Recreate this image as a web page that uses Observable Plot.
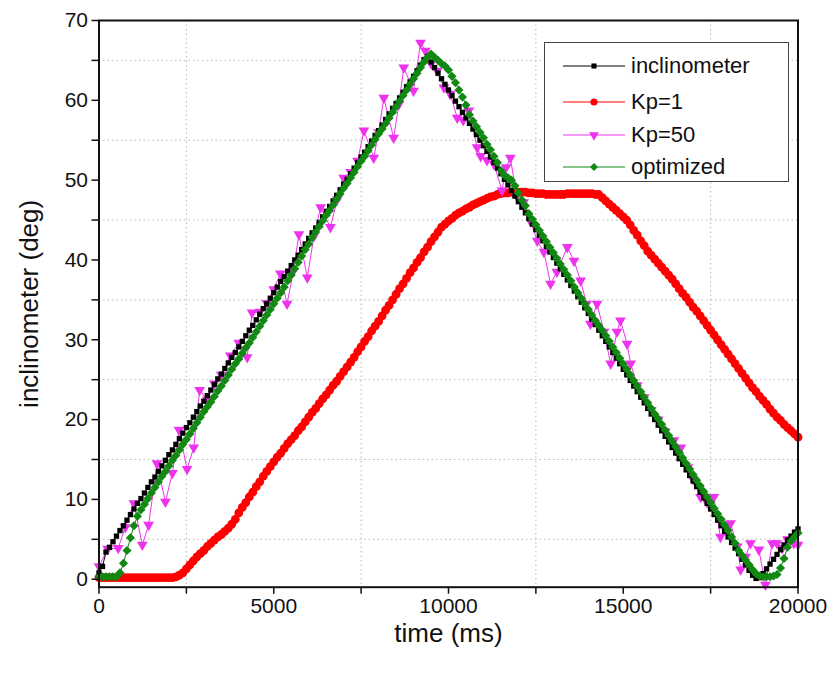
<!DOCTYPE html>
<html><head><meta charset="utf-8">
<script src="https://cdn.jsdelivr.net/npm/d3@7"></script>
<script src="https://cdn.jsdelivr.net/npm/@observablehq/plot@0.6"></script>
<style>
body{margin:0;background:#fff;}
#wrap{position:relative;width:832px;height:677px;font-family:"Liberation Sans",Arial,sans-serif;}
#legend{position:absolute;left:544px;top:42px;width:245px;height:140px;border:1.2px solid #444;background:#fff;box-sizing:border-box;}
.row{position:absolute;left:0;height:32px;display:flex;align-items:center;font-size:22px;color:#111;white-space:nowrap;}
.row svg{display:block;margin-left:17px;margin-right:5px;}
</style></head><body><div id="wrap"></div>
<script>
// sample times (ms) for inclinometer, Kp=1 and optimized
const time = [0,100,200,300,400,500,600,700,800,900,1000,1100,1200,1300,1400,1500,1600,1700,1800,1900,
2000,2100,2200,2300,2400,2500,2600,2700,2800,2900,3000,3100,3200,3300,3400,3500,3600,3700,3800,3900,
4000,4100,4200,4300,4400,4500,4600,4700,4800,4900,5000,5100,5200,5300,5400,5500,5600,5700,5800,5900,
6000,6100,6200,6300,6400,6500,6600,6700,6800,6900,7000,7100,7200,7300,7400,7500,7600,7700,7800,7900,
8000,8100,8200,8300,8400,8500,8600,8700,8800,8900,9000,9100,9200,9300,9400,9500,9600,9700,9800,9900,
10000,10100,10200,10300,10400,10500,10600,10700,10800,10900,11000,11100,11200,11300,11400,11500,11600,11700,11800,11900,
12000,12100,12200,12300,12400,12500,12600,12700,12800,12900,13000,13100,13200,13300,13400,13500,13600,13700,13800,13900,
14000,14100,14200,14300,14400,14500,14600,14700,14800,14900,15000,15100,15200,15300,15400,15500,15600,15700,15800,15900,
16000,16100,16200,16300,16400,16500,16600,16700,16800,16900,17000,17100,17200,17300,17400,17500,17600,17700,17800,17900,
18000,18100,18200,18300,18400,18500,18600,18700,18800,18900,19000,19100,19200,19300,19400,19500,19600,19700,19800,19900,20000];

const inclinometer = [0.8,1.6,3.4,4.0,4.7,5.4,6.1,6.7,7.4,8.1,
8.8,9.5,10.1,10.8,11.5,12.2,12.8,13.5,14.2,14.9,
15.6,16.2,16.9,17.6,18.3,19.0,19.6,20.3,21.0,21.7,
22.3,23.0,23.7,24.4,25.1,25.7,26.4,27.1,27.8,28.4,
29.1,29.8,30.5,31.2,31.8,32.5,33.2,33.9,34.5,35.2,
35.9,36.6,37.3,37.9,38.6,39.3,40.0,40.6,41.3,42.0,
42.7,43.4,44.0,44.7,45.4,46.1,46.7,47.4,48.1,48.8,
49.5,50.1,50.8,51.5,52.2,52.9,53.5,54.2,54.9,55.6,
56.2,56.9,57.6,58.3,59.0,59.6,60.3,61.0,61.7,62.3,
63.0,63.7,64.4,65.1,65.5,64.8,64.1,63.4,62.7,62.0,
61.3,60.6,59.9,59.2,58.5,57.8,57.1,56.4,55.7,55.0,
54.3,53.6,52.9,52.2,51.5,50.8,50.1,49.4,48.7,48.0,
47.3,46.6,45.9,45.2,44.5,43.8,43.1,42.4,41.7,41.0,
40.3,39.6,38.9,38.2,37.5,36.8,36.1,35.4,34.7,34.0,
33.3,32.6,31.9,31.2,30.5,29.8,29.1,28.4,27.7,27.0,
26.3,25.6,24.9,24.2,23.5,22.8,22.1,21.4,20.7,20.0,
19.3,18.6,17.9,17.2,16.5,15.8,15.1,14.4,13.7,13.0,
12.3,11.6,10.9,10.2,9.5,8.8,8.1,7.4,6.7,6.0,
5.3,4.6,3.9,3.2,2.5,1.8,1.1,0.5,0.1,0.2,
0.7,1.3,1.9,2.5,3.1,3.7,4.3,4.9,5.4,5.9,6.3];

const kp1 = [0.2,0.2,0.2,0.2,0.2,0.2,0.2,0.2,0.2,0.2,
0.2,0.2,0.2,0.2,0.2,0.2,0.2,0.2,0.2,0.2,
0.2,0.2,0.3,0.5,0.8,1.3,1.8,2.3,2.8,3.2,
3.6,4.1,4.5,4.9,5.3,5.6,6.0,6.4,6.9,7.5,
8.3,9.0,9.6,10.3,10.9,11.6,12.2,12.9,13.5,14.1,
14.7,15.3,15.8,16.4,17.0,17.5,18.0,18.6,19.1,19.7,
20.3,20.9,21.4,22.0,22.6,23.1,23.7,24.3,24.8,25.4,
26.0,26.6,27.2,27.8,28.5,29.1,29.8,30.4,31.1,31.7,
32.3,33.0,33.7,34.3,35.0,35.7,36.4,37.0,37.7,38.4,
39.0,39.7,40.3,41.0,41.6,42.3,42.9,43.5,44.1,44.5,
44.9,45.2,45.6,45.9,46.1,46.4,46.6,46.9,47.1,47.3,
47.5,47.7,47.9,48.0,48.2,48.3,48.4,48.4,48.5,48.5,
48.5,48.5,48.5,48.4,48.4,48.3,48.3,48.3,48.2,48.2,
48.2,48.2,48.2,48.2,48.3,48.3,48.3,48.3,48.3,48.3,
48.3,48.3,48.2,48.2,47.8,47.4,47.0,46.6,46.2,45.8,
45.4,45.0,44.4,43.7,43.1,42.4,41.8,41.1,40.6,40.1,
39.6,39.1,38.6,38.1,37.6,37.0,36.4,35.8,35.3,34.7,
34.1,33.6,33.0,32.4,31.8,31.2,30.6,30.0,29.4,28.8,
28.2,27.6,27.0,26.4,25.8,25.2,24.6,24.0,23.5,22.9,
22.4,21.9,21.3,20.8,20.3,19.9,19.4,19.0,18.6,18.2,17.8];

const optimized = [0.3,0.3,0.3,0.3,0.3,0.3,0.8,2.0,3.6,5.2,
6.7,7.9,8.7,9.4,10.1,10.8,11.5,12.2,12.9,13.5,
14.2,14.9,15.5,16.2,16.9,17.5,18.2,18.9,19.6,20.3,
21.0,21.6,22.2,22.9,23.6,24.2,24.9,25.6,26.3,27.0,
27.6,28.3,29.0,29.6,30.3,31.0,31.7,32.4,33.1,33.8,
34.5,35.2,35.9,36.6,37.4,38.1,38.9,39.7,40.5,41.3,
42.0,42.8,43.5,44.2,44.9,45.6,46.2,46.9,47.6,48.3,
49.0,49.6,50.3,51.0,51.7,52.4,53.0,53.7,54.4,55.1,
55.8,56.4,57.1,57.8,58.5,59.2,59.9,60.6,61.3,62.0,
62.7,63.4,64.1,64.8,65.4,65.8,65.4,65.0,64.6,64.3,
63.8,63.0,62.2,61.3,60.4,59.4,58.2,57.4,56.7,56.0,
55.3,54.5,53.8,53.0,52.2,51.2,50.6,50.3,50.0,49.3,
48.4,47.5,46.8,45.8,45.1,44.4,43.7,43.0,42.3,41.6,
40.9,40.2,39.5,38.8,38.1,37.4,36.6,35.9,35.2,34.5,
33.8,33.1,32.4,31.8,31.2,30.5,29.8,29.1,28.4,27.7,
27.0,26.3,25.6,24.9,24.2,23.5,22.8,22.1,21.4,20.7,
20.1,19.4,18.7,18.0,17.3,16.6,15.9,15.2,14.5,13.8,
13.1,12.4,11.7,11.0,10.3,9.6,8.9,8.2,7.5,6.8,
6.1,5.3,4.5,3.6,3.0,2.4,1.8,1.2,0.7,0.4,
0.3,0.3,0.3,0.4,0.6,1.4,2.6,4.0,4.8,5.3,5.8];

// Kp=50 series has its own sample times
const kp50Time = [0,250,550,750,1000,1240,1420,1660,1900,2100,2290,2520,2710,2880,3100,3300,3500,3760,4000,4240,
4380,4600,4800,5000,5190,5380,5560,5720,5960,6150,6340,6620,6820,7000,7200,7400,7580,7860,8000,8150,
8430,8580,8720,9000,9200,9340,9500,9680,9870,10050,10250,10420,10580,10820,10920,11100,11300,11530,11650,11770,
11950,12150,12350,12540,12730,12920,13100,13400,13590,13780,13950,14060,14250,14450,14640,14820,14920,15110,15210,15400,
15600,15800,16000,16200,16450,16650,16850,17000,17210,17400,17590,17780,17950,18070,18260,18360,18500,18640,18880,19070,
19260,19400,19550,19700,19880,20000];
const kp50 = [1.6,3.8,3.9,6.5,9.5,4.3,6.8,14.5,9.7,13.3,18.7,13.8,16.5,23.7,22.5,24.5,25.6,28.0,29.6,27.8,
33.4,33.5,34.6,36.3,38.3,34.5,38.6,43.2,37.8,43.0,46.6,44.1,47.6,50.3,51.0,52.4,56.2,52.8,56.0,60.3,
55.3,59.5,64.1,61.2,67.2,66.2,64.6,63.7,61.6,60.8,57.8,57.5,58.7,54.1,53.0,52.5,52.0,48.7,51.6,52.8,
48.0,47.2,44.8,42.4,41.0,37.0,38.5,41.6,39.9,37.4,34.5,32.0,34.5,31.0,27.0,31.0,32.4,29.5,27.0,24.3,
22.8,21.2,20.0,18.5,17.4,16.5,14.0,12.5,10.3,9.6,10.3,5.3,6.2,7.0,4.1,1.2,2.8,4.5,3.7,-0.7,
4.5,4.5,3.9,5.0,4.5,4.3];

const xMajor = [0,5000,10000,15000,20000];
const xMinor = [2500,7500,12500,17500];
const yMajor = [0,10,20,30,40,50,60,70];
const yMinor = [5,15,25,35,45,55,65];
const seriesNames = ["inclinometer","Kp=1","Kp=50","optimized"];
const seriesColors = ["#000000","#ff0000","#ee33ee","#118811"];

const rows = (vals, ts) => ts.map((t,i) => ({t, v: vals[i]}));
const dInc = rows(inclinometer, time);
const dKp1 = rows(kp1, time);
const dOpt = rows(optimized, time);
const dKp50 = rows(kp50, kp50Time);

const FONT = '"Liberation Sans", Arial, sans-serif';

const chart = Plot.plot({
  width: 832, height: 677,
  marginLeft: 98.5, marginRight: 34.5, marginTop: 20, marginBottom: 90.3,
  style: {fontFamily: FONT, background: "white", color: "#111", overflow: "visible"},
  x: {domain: [0, 20000], axis: null},
  y: {domain: [-1, 70], axis: null},
  marks: [
    Plot.gridX(xMinor, {stroke: "#b8b8b8", strokeOpacity: 1, strokeDasharray: "1.5,3"}),
    Plot.gridY(yMinor, {stroke: "#b8b8b8", strokeOpacity: 1, strokeDasharray: "1.5,3"}),
    Plot.line(dKp1, {x: "t", y: "v", stroke: seriesColors[1], strokeWidth: 1}),
    Plot.dot(dKp1, {x: "t", y: "v", r: 4.4, fill: seriesColors[1], symbol: "circle"}),
    Plot.line(dKp50, {x: "t", y: "v", stroke: seriesColors[2], strokeWidth: 1}),
    Plot.dot(dKp50, {x: "t", y: "v", r: 4.0, fill: seriesColors[2], symbol: "triangle", rotate: 180}),
    Plot.line(dInc, {x: "t", y: "v", stroke: seriesColors[0], strokeWidth: 1}),
    Plot.dot(dInc, {x: "t", y: "v", r: 3.0, fill: seriesColors[0], symbol: "square"}),
    Plot.line(dOpt, {x: "t", y: "v", stroke: seriesColors[3], strokeWidth: 1}),
    Plot.dot(dOpt, {x: "t", y: "v", r: 4.1, fill: seriesColors[3], stroke: "none", symbol: "diamond2"}),
    Plot.axisX(xMajor, {tickSize: 7, tickPadding: 4, fontSize: 21, strokeWidth: 1.5, tickFormat: d => String(d), label: null}),
    Plot.axisX(xMinor, {tickSize: 7, strokeWidth: 1.5, tickFormat: () => "", label: null}),
    Plot.axisY(yMajor, {tickSize: 7, tickPadding: 4, fontSize: 21, strokeWidth: 1.5, tickFormat: d => String(d), label: null}),
    Plot.axisY(yMinor, {tickSize: 7, strokeWidth: 1.5, tickFormat: () => "", label: null}),
    Plot.frame({stroke: "#111", strokeWidth: 2}),
    Plot.text(["time (ms)"], {frameAnchor: "bottom", lineAnchor: "middle", dy: 46, text: d => d, fontSize: 26, fill: "#111"}),
    Plot.text(["inclinometer (deg)"], {frameAnchor: "left", textAnchor: "middle", lineAnchor: "middle", dx: -69, rotate: -90, text: d => d, fontSize: 26, fill: "#111"})
  ]
});

const wrap = document.getElementById("wrap");
wrap.appendChild(chart);

// legend
const legend = document.createElement("div");
legend.id = "legend";
wrap.appendChild(legend);
const symbols = [
  {type: d3.symbolSquare, size: 26, rot: 0},
  {type: d3.symbolCircle, size: 40, rot: 0},
  {type: d3.symbolTriangle, size: 42, rot: 180},
  {type: d3.symbolDiamond2, size: 40, rot: 0}
];
const rowTops = [7, 43, 76, 108];
seriesNames.forEach((name, i) => {
  const row = document.createElement("div");
  row.className = "row";
  row.style.top = rowTops[i] + "px";
  const svg = d3.create("svg").attr("width", 64).attr("height", 20);
  svg.append("line").attr("x1", 1).attr("x2", 63).attr("y1", 10).attr("y2", 10)
     .attr("stroke", seriesColors[i]).attr("stroke-width", 1);
  svg.append("path").attr("d", d3.symbol(symbols[i].type, symbols[i].size)())
     .attr("transform", `translate(32,10) rotate(${symbols[i].rot})`).attr("fill", seriesColors[i]);
  row.appendChild(svg.node());
  const span = document.createElement("span");
  span.textContent = name;
  row.appendChild(span);
  legend.appendChild(row);
});
</script>
</body></html>
